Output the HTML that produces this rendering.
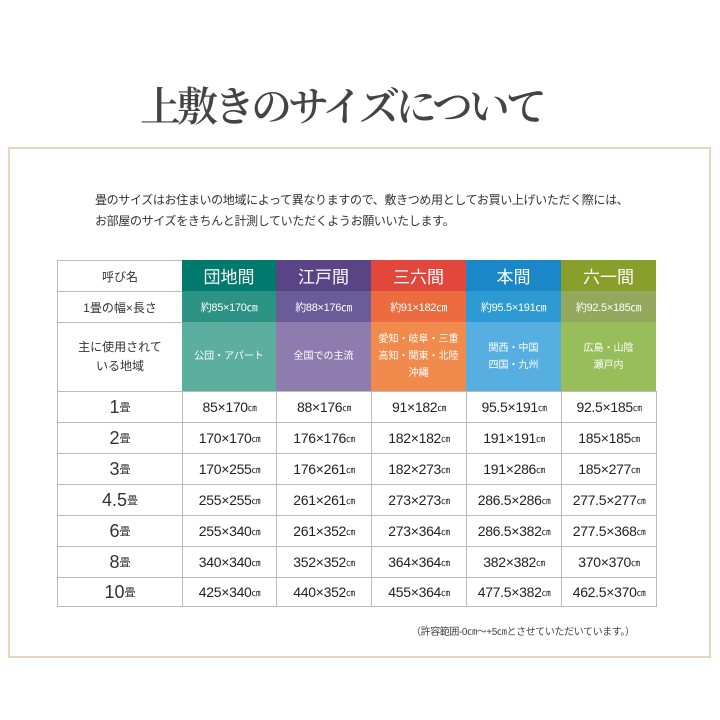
<!DOCTYPE html>
<html><head><meta charset="utf-8"><style>
body{margin:0;width:720px;height:720px;background:#fff;position:relative;overflow:hidden;font-family:"Liberation Sans","Noto Sans CJK JP",sans-serif;color:#333}
.t{position:absolute;left:140px;top:82px;white-space:nowrap;font-family:"Liberation Serif","Noto Serif CJK SC",serif;font-size:41px;letter-spacing:-4px;color:#444;line-height:50px;font-weight:600}
.frame{position:absolute;left:8px;top:147px;width:699px;height:507px;border:2px solid #ead5bd}
.p{position:absolute;left:95px;font-size:12px;letter-spacing:-0.35px;color:#333;white-space:nowrap}
.c{position:absolute;display:flex;align-items:center;justify-content:center;text-align:center;box-sizing:border-box}
.note{position:absolute;left:411px;top:623px;font-size:10px;letter-spacing:-0.4px;color:#444;white-space:nowrap}
</style></head><body>
<div class="t">上敷きのサイズについて</div>
<div class="frame"></div>
<div class="p" style="top:191px">畳のサイズはお住まいの地域によって異なりますので、敷きつめ用としてお買い上げいただく際には、</div>
<div class="p" style="top:212px">お部屋のサイズをきちんと計測していただくようお願いいたします。</div>
<div id="tb"></div>
<div class="note">（許容範囲-0㎝～+5㎝とさせていただいています。）</div>
<script>
var xs=[57,182,276,371,466,561,656];
var ys=[260,291,322,391,422,453,484,515,546,577,606];
var cols=[["#007a6e","#2c9283","#5cae9f"],["#594585","#6a5c99","#8f7cae"],["#e2473b","#ec6b3f","#f08b4d"],["#1a88c8","#2e9ad3","#57aee0"],["#8a9f2b","#93a85c","#98be5c"]];
var heads=["団地間","江戸間","三六間","本間","六一間"];
var r2=["約85×170㎝","約88×176㎝","約91×182㎝","約95.5×191㎝","約92.5×185㎝"];
var r3=["公団・アパート","全国での主流","愛知・岐阜・三重<br>高知・関東・北陸<br>沖縄","関西・中国<br>四国・九州","広島・山陰<br>瀬戸内"];
var labels=["1","2","3","4.5","6","8","10"];
var data=[["85×170","88×176","91×182","95.5×191","92.5×185"],["170×170","176×176","182×182","191×191","185×185"],["170×255","176×261","182×273","191×286","185×277"],["255×255","261×261","273×273","286.5×286","277.5×277"],["255×340","261×352","273×364","286.5×382","277.5×368"],["340×340","352×352","364×364","382×382","370×370"],["425×340","440×352","455×364","477.5×382","462.5×370"]];
var h="";
function cell(x0,x1,y0,y1,st,txt){h+='<div class="c" style="left:'+x0+'px;top:'+y0+'px;width:'+(x1-x0)+'px;height:'+(y1-y0)+'px;'+st+'">'+txt+'</div>';}
var bd="border:1px solid #bbb;";
cell(xs[0],xs[1]+1,ys[0],ys[1]+1,bd+"font-size:12px","呼び名");
cell(xs[0],xs[1]+1,ys[1],ys[2]+1,bd+"font-size:12px","1畳の幅×長さ");
cell(xs[0],xs[1]+1,ys[2],ys[3]+1,bd+"font-size:12px;line-height:19px","主に使用されて<br>いる地域");
for(var i=0;i<5;i++){
 cell(xs[i+1],xs[i+2],ys[0],ys[1],"background:"+cols[i][0]+";color:#fff;font-size:17px",heads[i]);
 cell(xs[i+1],xs[i+2],ys[1],ys[2],"background:"+cols[i][1]+";color:#fff;font-size:11px;letter-spacing:-0.3px",r2[i]);
 cell(xs[i+1],xs[i+2],ys[2],ys[3],"background:"+cols[i][2]+";color:#fff;font-size:10px;line-height:17px",r3[i]);
}
for(var r=0;r<7;r++){
 cell(xs[0],xs[1]+1,ys[r+3],ys[r+4]+1,bd+"font-size:18px",labels[r]+'<span style="font-size:11px">畳</span>');
 for(var i=0;i<5;i++) cell(xs[i+1],xs[i+2]+1,ys[r+3],ys[r+4]+1,bd+"font-size:14px;letter-spacing:-0.3px;color:#222",data[r][i]+'<span style="font-size:9px">㎝</span>');
}
document.getElementById("tb").innerHTML=h;
</script>
</body></html>
